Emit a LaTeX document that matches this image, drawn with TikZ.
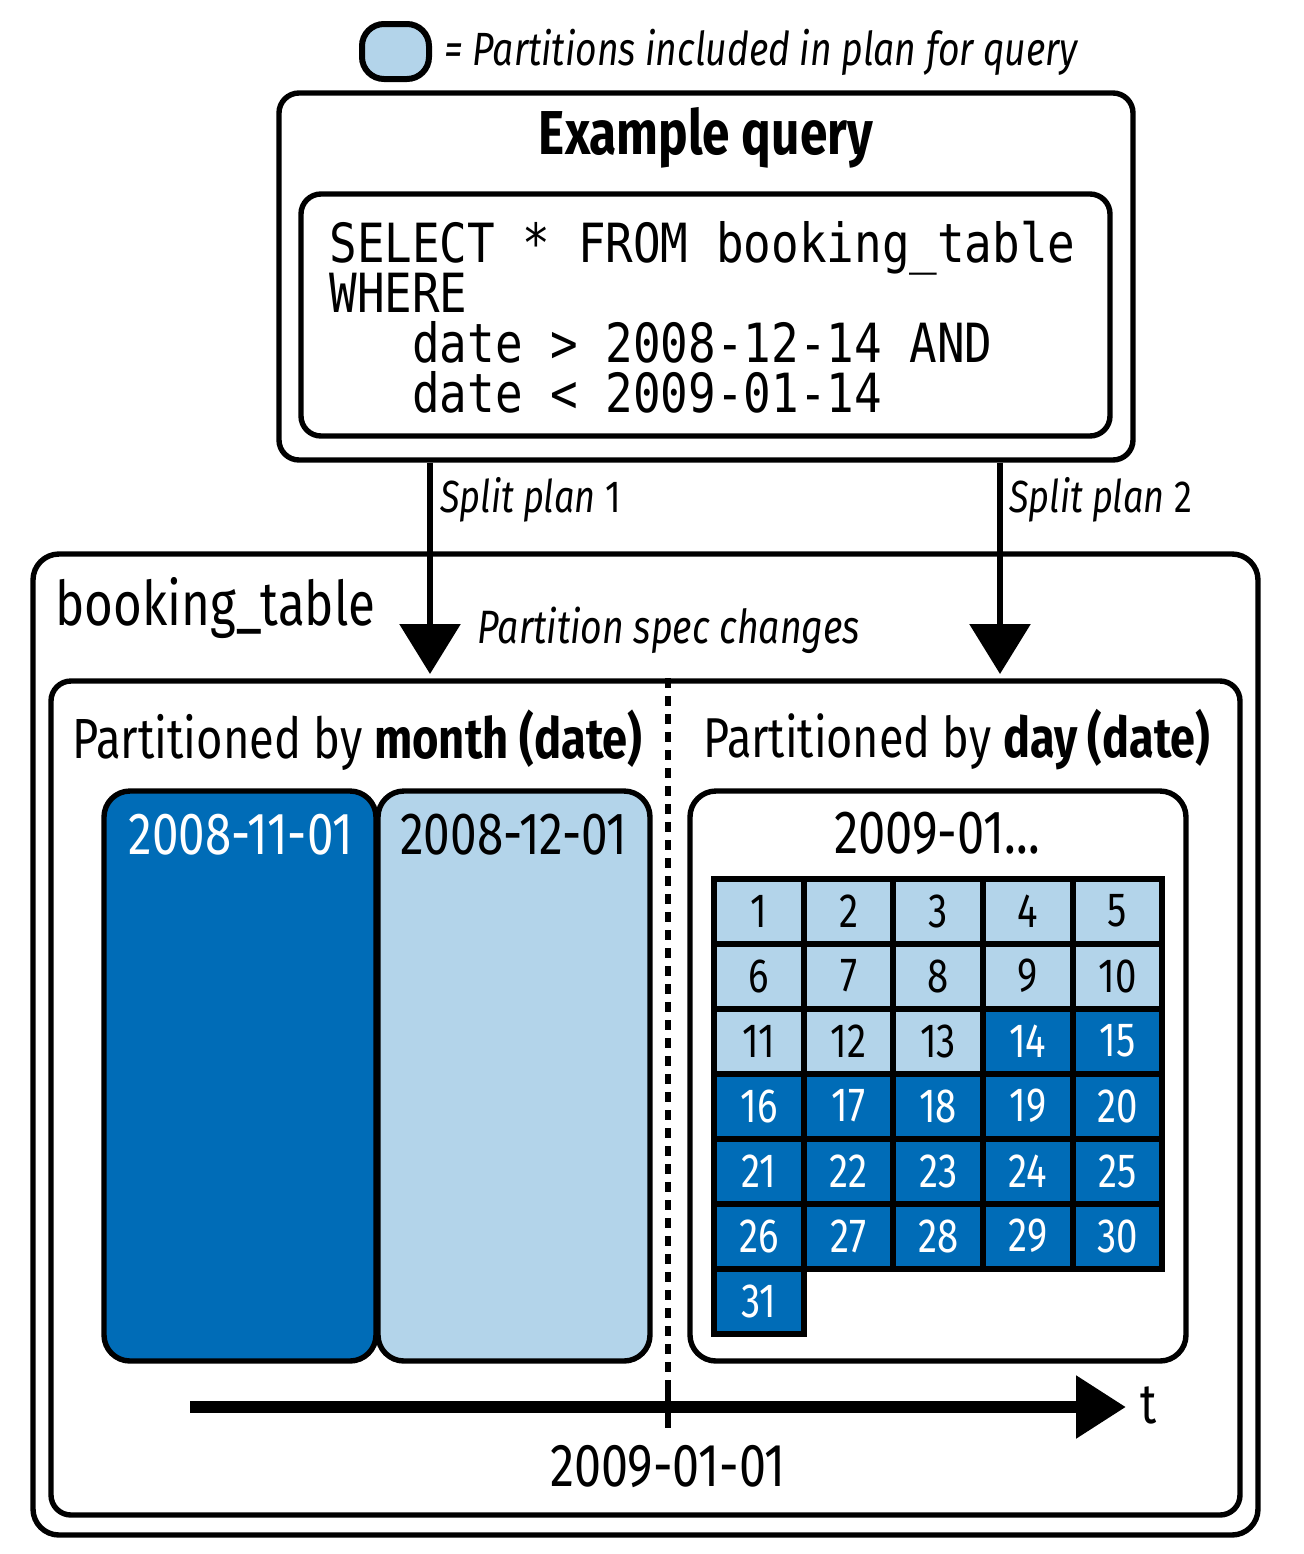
\documentclass[tikz,border=0pt]{standalone}
\usepackage{fontspec}
\setmainfont{Fira Sans}[FakeStretch=0.8]
\setmonofont{DejaVu Sans Mono}[FakeStretch=0.85]
\usetikzlibrary{arrows.meta,fit}
\definecolor{darkpart}{HTML}{006CB7}
\definecolor{lightpart}{HTML}{B3D4EA}

\begin{document}
\begin{tikzpicture}[x=0.5pt,y=-0.5pt]
    \tikzset{
        box/.style={draw,line width=2.7pt,rounded corners=10pt,inner sep=0pt},
        monthbox/.style={box,rounded corners=13pt},
        cell/.style={draw,line width=3pt,minimum width=44.8pt,minimum height=32.5pt,
            inner sep=0pt,font=\fontsize{24}{24}\selectfont},
        plan/.style={line width=3pt,-{Triangle[width=30pt,length=25pt]}},
        label/.style={inner sep=0pt,font=\fontsize{28}{30}\selectfont},
        note/.style={inner sep=0pt,anchor=west,font=\fontsize{23}{23}\selectfont\itshape}
    }
    \useasboundingbox (0,0) rectangle (1304,1554);

    % legend
    \node[box,rounded corners=11pt,fill=lightpart,line width=3pt,fit={(362,24) (429,79)}] (legend) {};
    \node[note,font=\fontsize{23.3}{24}\selectfont\itshape] (legendtext) at (444,52) {= Partitions included in plan for query};

    % example query
    \node[box,fit={(279,93) (1133,460)}] (query) {};
    \node[label,font=\fontsize{31}{31}\selectfont\bfseries] (querytitle) at (706,138) {Example query};
    \node[box,fit={(301,194) (1110,436)}] (code) {};
    \node[anchor=north west,inner sep=0pt,align=left,
        font={\fontsize{27}{25}\ttfamily\lineskiplimit=-20pt\relax}] (sql) at (329,221)
        {SELECT * FROM booking\_table\\WHERE\\\hphantom{xxx}date > 2008-12-14 AND\\\hphantom{xxx}date < 2009-01-14};

    % booking table
    \node[box,rounded corners=13pt,fit={(33,554) (1258,1535)}] (table) {};
    \node[label,anchor=west,font=\fontsize{30.8}{31}\selectfont] (tablename) at (55,608) {booking\_table};
    \node[note,font=\fontsize{23.4}{24}\selectfont\itshape] (speclabel) at (477,630) {Partition spec changes};
    \node[box,fit={(51,681) (1240,1515)}] (partitions) {};

    % split plans
    \coordinate (tip1) at (430,674);
    \coordinate (tip2) at (1000,674);
    \draw[plan] (query.south -| tip1) -- (tip1);
    \draw[plan] (query.south -| tip2) -- (tip2);
    \node[note,font=\fontsize{22.5}{23}\selectfont] (plan1) at (440,500) {\textit{Split plan} 1};
    \node[note,font=\fontsize{22.5}{23}\selectfont] (plan2) at (1009,500) {\textit{Split plan} 2};

    % partition spec change
    \coordinate (change) at (668,1390);
    \draw[line width=3pt,dash pattern=on 5pt off 4pt] (partitions.north -| change) -- (change);

    % month partitions
    \node[label,anchor=west,font=\fontsize{28.3}{30}\selectfont] (bymonth) at (72,740) {Partitioned by \textbf{month (date)}};
    \node[monthbox,fill=darkpart,fit={(104,791) (376,1361)}] (nov) {};
    \node[label,text=white,font=\fontsize{29.7}{30}\selectfont] (novlabel) at (241,835) {2008-11-01};
    \node[monthbox,fill=lightpart,fit={(378,791) (650,1361)}] (dec) {};
    \node[label,font=\fontsize{29.8}{30}\selectfont] (declabel) at (514,835) {2008-12-01};

    % day partitions
    \node[label,anchor=west,font=\fontsize{28.1}{30}\selectfont] (byday) at (703,740) {Partitioned by \textbf{day (date)}};
    \node[monthbox,fit={(690,791) (1186,1361)}] (jan) {};
    \node[label,font=\fontsize{30.5}{31}\selectfont] (janlabel) at (937,833) {2009-01...};
    \foreach \d in {1,...,31} {
        \pgfmathtruncatemacro{\col}{mod(\d-1,5)}
        \pgfmathtruncatemacro{\row}{(\d-1)/5}
        \ifnum\d<14
            \node[cell,fill=lightpart] (day\d) at (759+\col*89.6,911+\row*65) {\d};
        \else
            \node[cell,fill=darkpart,text=white] (day\d) at (759+\col*89.6,911+\row*65) {\d};
        \fi
    }

    % time axis
    \coordinate (tstart) at (190,1407);
    \coordinate (tend) at (1126,1407);
    \draw[line width=6pt,-{Triangle[width=30pt,length=25pt]}] (tstart) -- (tend);
    \draw[line width=3pt] (668,1385) -- (668,1428);
    \node[label,anchor=west] (t) at (1140,1405) {t};
    \node[label,font=\fontsize{30.3}{31}\selectfont] (cutover) at (668,1467) {2009-01-01};
\end{tikzpicture}
\end{document}
